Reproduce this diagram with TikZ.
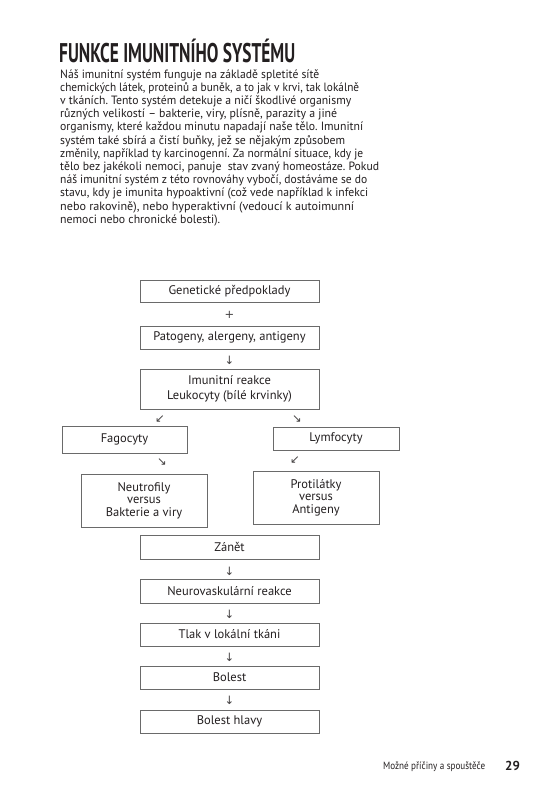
\documentclass[tikz,border=0pt]{standalone}
\usepackage{fontspec}
\usepackage{graphicx}
\setmainfont{PT Sans}
\newfontfamily\symfont{DejaVu Sans}
\newfontfamily\titlefont{PT Sans}
\definecolor{ink}{HTML}{231F20}
\definecolor{frame}{HTML}{6A6A6A}
\frenchspacing
\newcommand\fitline[2]{\resizebox{#1bp}{\height}{#2}}
\tikzset{
  fbox/.style={draw=frame, line width=0.8bp, inner sep=0pt, align=center, text=ink,
    font=\fontsize{12.5bp}{13bp}\selectfont},
  arr/.style={inner sep=0pt, text=ink!85, font=\symfont\fontsize{11.5bp}{12bp}\selectfont},
  body/.style={anchor=base west, inner sep=0pt, text=ink, font=\fontsize{12bp}{13bp}\selectfont}
}
\begin{document}
\begin{tikzpicture}[x=1bp,y=-1bp]
\useasboundingbox[fill=white] (0,0) rectangle (560,799);
% title
\node[anchor=base west, inner sep=0pt, text=ink] (title) at (59,62)
  {\resizebox{236bp}{\height}{\titlefont\bfseries\fontsize{27bp}{30bp}\selectfont FUNKCE IMUNITNÍHO SYSTÉMU}};
% body
\node[body] (l1) at (60,78.0) {\fitline{259}{Náš imunitní systém funguje na základě spletité sítě}};
\node[body] (l2) at (60,91.2) {\fitline{299}{chemických látek, proteinů a buněk, a to jak v krvi, tak lokálně}};
\node[body] (l3) at (60,104.4) {\fitline{291}{v tkáních. Tento systém detekuje a ničí škodlivé organismy}};
\node[body] (l4) at (60,117.6) {\fitline{277}{různých velikostí – bakterie, viry, plísně, parazity a jiné}};
\node[body] (l5) at (60,130.8) {\fitline{303}{organismy, které každou minutu napadají naše tělo. Imunitní}};
\node[body] (l6) at (60,144.0) {\fitline{285}{systém také sbírá a čistí buňky, jež se nějakým způsobem}};
\node[body] (l7) at (60,157.2) {\fitline{303}{změnily, například ty karcinogenní. Za normální situace, kdy je}};
\node[body] (l8) at (60,170.4) {\fitline{319}{tělo bez jakékoli nemoci, panuje \ stav zvaný homeostáze. Pokud}};
\node[body] (l9) at (60,183.6) {\fitline{307}{náš imunitní systém z této rovnováhy vybočí, dostáváme se do}};
\node[body] (l10) at (60,196.8) {\fitline{308}{stavu, kdy je imunita hypoaktivní (což vede například k infekci}};
\node[body] (l11) at (60,210.0) {\fitline{294}{nebo rakovině), nebo hyperaktivní (vedoucí k autoimunní}};
\node[body] (l12) at (60,223.2) {\fitline{160}{nemoci nebo chronické bolesti).}};
% boxes
\node[fbox, minimum width=179bp, minimum height=22bp] (gen) at (229.5,291.5) {Genetické předpoklady};
\node[fbox, minimum width=179bp, minimum height=23bp] (pat) at (229.5,337.5) {Patogeny, alergeny, antigeny};
\node[fbox, minimum width=179bp, minimum height=40bp, font=\fontsize{12.5bp}{15bp}\selectfont] (imu) at (229.5,389) {Imunitní reakce\\Leukocyty (bílé krvinky)};
\node[fbox, minimum width=125bp, minimum height=27bp] (fag) at (124.5,439.5) {Fagocyty};
\node[fbox, minimum width=126bp, minimum height=23bp] (lym) at (336,438.5) {Lymfocyty};
\node[fbox, minimum width=126bp, minimum height=53bp, font=\fontsize{12.5bp}{12.5bp}\selectfont] (neu) at (144,500.5) {Neutrofily\\versus\\Bakterie a viry};
\node[fbox, minimum width=126bp, minimum height=53bp, font=\fontsize{12.5bp}{12.5bp}\selectfont] (pro) at (316,497.5) {Protilátky\\versus\\Antigeny};
\node[fbox, minimum width=179bp, minimum height=24bp] (zan) at (229.5,547) {Zánět};
\node[fbox, minimum width=179bp, minimum height=24bp] (neur) at (229.5,591) {Neurovaskulární reakce};
\node[fbox, minimum width=179bp, minimum height=23bp] (tlak) at (229.5,634.5) {Tlak v lokální tkáni};
\node[fbox, minimum width=179bp, minimum height=23bp] (bol) at (229.5,677.5) {Bolest};
\node[fbox, minimum width=179bp, minimum height=23bp] (hla) at (229.5,721.5) {Bolest hlavy};
% glyph connectors
\node[arr] (a1) at (229.5,315) {+};
\node[arr] (a2) at (229.5,360) {↓};
\node[arr] (a3) at (160,419) {↙};
\node[arr] (a4) at (297,419) {↘};
\node[arr] (a5) at (162,462) {↘};
\node[arr] (a6) at (295,460) {↙};
\node[arr] (a7) at (229.5,571) {↓};
\node[arr] (a8) at (229.5,614) {↓};
\node[arr] (a9) at (229.5,657) {↓};
\node[arr] (a10) at (229.5,700) {↓};
% footer
\node[anchor=base west, inner sep=0pt, text=ink, font=\fontsize{10.5bp}{12bp}\selectfont] (foot) at (383,769) {\resizebox{102bp}{\height}{Možné příčiny a spouštěče}};
\node[anchor=base west, inner sep=0pt, text=ink, font=\bfseries\fontsize{13bp}{14bp}\selectfont] (page) at (505,770) {29};
\end{tikzpicture}
\end{document}
